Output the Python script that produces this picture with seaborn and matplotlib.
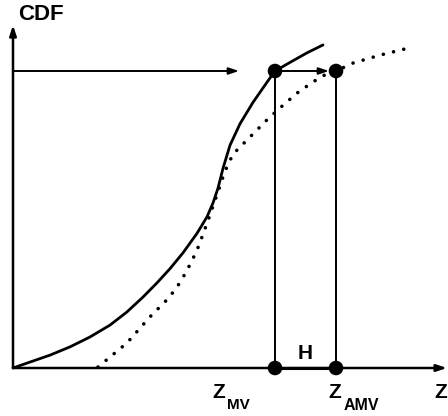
import matplotlib
matplotlib.use("Agg")
import matplotlib.pyplot as plt
import seaborn as sns
import pandas as pd

# curves (z, cdf)
z_mv_curve = [0.0, 0.17, 0.37, 0.57, 0.77, 0.97, 1.14, 1.30, 1.44, 1.57, 1.70, 1.84,
              1.94, 2.00, 2.05, 2.10, 2.17, 2.27, 2.40, 2.54, 2.62, 2.77, 2.94, 3.10]
cdf_mv_curve = [0.0, 0.018, 0.039, 0.064, 0.094, 0.130, 0.170, 0.215, 0.258, 0.301, 0.349,
                0.408, 0.458, 0.500, 0.545, 0.605, 0.675, 0.740, 0.805, 0.866, 0.900,
                0.926, 0.955, 0.979]

z_amv_curve = [0.85, 1.14, 1.37, 1.55, 1.64, 1.72, 1.79, 1.85, 1.90, 1.95, 2.04, 2.12,
               2.20, 2.37, 2.54, 2.67, 2.84, 3.00, 3.14, 3.23, 3.40, 3.67, 4.00]
cdf_amv_curve = [0.003, 0.076, 0.155, 0.210, 0.245, 0.285, 0.325, 0.365, 0.405, 0.447,
                 0.525, 0.597, 0.648, 0.700, 0.752, 0.788, 0.833, 0.867, 0.892, 0.900,
                 0.924, 0.948, 0.973]

cdf_level = 0.9
z_mv = 2.62
z_amv = 3.23

sns.set_style("white")
plt.rcParams["font.family"] = ["Liberation Sans", "DejaVu Sans"]

fig = plt.figure(figsize=(4.48, 4.16), dpi=100)
ax = fig.add_axes([0, 0, 1, 1])
ax.set_xlim(-0.13, 4.35)
ax.set_ylim(-48 / 330, 368 / 330)
ax.axis("off")

df_mv = pd.DataFrame({"z": z_mv_curve, "cdf": cdf_mv_curve})
df_amv = pd.DataFrame({"z": z_amv_curve, "cdf": cdf_amv_curve})
sns.lineplot(data=df_mv, x="z", y="cdf", sort=False, color="black", lw=2.0, ax=ax,
             solid_joinstyle="round")
sns.lineplot(data=df_amv, x="z", y="cdf", sort=False, color="black", lw=2.6,
             linestyle=(0, (0.01, 2.9)), dash_capstyle="round", ax=ax)

# axes with arrows
arrow = dict(arrowstyle="-|>,head_length=0.6,head_width=0.2", color="black", lw=1.8,
             shrinkA=0, shrinkB=0)
ax.annotate("", xy=(0, 1.039), xytext=(0, 0), arrowprops=arrow)
ax.annotate("", xy=(4.34, 0), xytext=(0, 0), arrowprops=arrow)

# mapping arrows
thin = dict(arrowstyle="-|>,head_length=0.6,head_width=0.2", color="black", lw=1.4,
            shrinkA=0, shrinkB=0)
ax.annotate("", xy=(2.26, cdf_level), xytext=(0, cdf_level), arrowprops=thin)
ax.annotate("", xy=(3.16, cdf_level), xytext=(z_mv, cdf_level), arrowprops=thin)
ax.plot([z_mv, z_mv], [0, cdf_level], color="black", lw=1.4)
ax.plot([z_amv, z_amv], [0, cdf_level], color="black", lw=1.4)
ax.plot([z_mv, z_amv], [0, 0], color="black", lw=2.2)

pts = pd.DataFrame({"z": [z_mv, z_amv, z_mv, z_amv], "cdf": [cdf_level, cdf_level, 0, 0]})
sns.scatterplot(data=pts, x="z", y="cdf", color="black", s=110, edgecolor="none", ax=ax, zorder=5)

bold = dict(fontweight="bold", color="black")
ax.text(0.05, 1.07, "CDF", fontsize=16, va="center", ha="left", **bold)
ax.text(2.92, 0.045, "H", fontsize=15, va="center", ha="center", **bold)
# Z labels with dropped subscripts
ax.text(1.99, -0.045, "Z", fontsize=15, va="top", ha="left", **bold)
ax.text(2.14, -0.09, "MV", fontsize=11, va="top", ha="left", **bold)
ax.text(3.15, -0.045, "Z", fontsize=15, va="top", ha="left", **bold)
ax.text(3.31, -0.09, "AMV", fontsize=11.5, va="top", ha="left", **bold)
ax.text(4.21, -0.045, "Z", fontsize=15, va="top", ha="left", **bold)

fig.savefig("out.png", dpi=100)
